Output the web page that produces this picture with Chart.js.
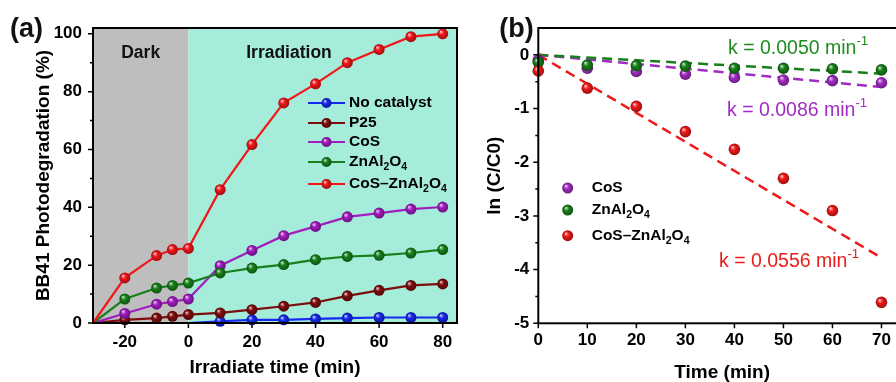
<!DOCTYPE html>
<html><head><meta charset="utf-8">
<script src="https://cdn.jsdelivr.net/npm/chart.js@4.4.0/dist/chart.umd.min.js"></script>
<style>
html,body{margin:0;padding:0;background:#fff;overflow:hidden;width:896px;height:382px;position:relative;}
#ca{position:absolute;left:0;top:0;}
#cb{position:absolute;left:450px;top:0;}
</style></head><body>
<canvas id="ca" width="470" height="382"></canvas>
<canvas id="cb" width="470" height="382"></canvas>
<script>
// ---------- Panel (a) data ----------
const timeA = [-30, -20, -10, -5, 0, 10, 20, 30, 40, 50, 60, 70, 80];
const timeNoCat = [0, 10, 20, 30, 40, 50, 60, 70, 80];
const noCatalyst = [0, 0.6, 1.1, 1.1, 1.4, 1.7, 1.9, 1.9, 1.9];
const p25 = [0, 1.1, 1.7, 2.3, 2.9, 3.5, 4.6, 5.8, 7.1, 9.4, 11.3, 13.0, 13.5];
const cosA = [0, 3.3, 6.5, 7.4, 8.3, 19.8, 25.1, 30.2, 33.4, 36.7, 38.0, 39.4, 40.1];
const znAlA = [0, 8.3, 12.1, 13.0, 13.8, 17.3, 19.0, 20.2, 21.9, 23.0, 23.4, 24.2, 25.4];
const cosZnAlA = [0, 15.6, 23.3, 25.4, 25.8, 46.1, 61.7, 76.1, 82.7, 90.0, 94.6, 99.0, 100.0];
const labelsA = ['No catalyst', 'P25', 'CoS', 'ZnAl₂O₄', 'CoS–ZnAl₂O₄'];
const aXTicks = [-20, 0, 20, 40, 60, 80];
const aYTicks = [0, 20, 40, 60, 80, 100];
const darkEnd = 0;

// ---------- Panel (b) data ----------
const timeB = [0, 10, 20, 30, 40, 50, 60, 70];
const lnCoS = [-0.1, -0.25, -0.31, -0.36, -0.42, -0.47, -0.48, -0.52];
const lnZnAl = [-0.14, -0.19, -0.2, -0.21, -0.25, -0.25, -0.26, -0.28];
const lnCoSZnAl = [-0.3, -0.62, -0.96, -1.43, -1.76, -2.3, -2.9, -4.61];
const fitT = [0, 70];
const fitCoS = [0, -0.6];
const fitZnAl = [0, -0.35];
const fitCoSZnAl = [0, -3.78];
const labelsB = ['CoS', 'ZnAl₂O₄', 'CoS–ZnAl₂O₄'];
const kLabels = ['k = 0.0050 min⁻¹', 'k = 0.0086 min⁻¹', 'k = 0.0556 min⁻¹'];
const bXTicks = [0, 10, 20, 30, 40, 50, 60, 70];
const bYTicks = [-5, -4, -3, -2, -1, 0];

// ---------- styling ----------
const FAM = '"Liberation Sans", Arial, sans-serif';
Chart.defaults.font.family = FAM;
Chart.defaults.color = '#000';
const colA = ['#1428ee', '#7e0c0c', '#a21cc0', '#17801a', '#f2161a'];
const colB = ['#a12cc2', '#17801a', '#f01818'];
const kCol = ['#1e8c1e', '#a02cc0', '#e81c1c'];
const SUB = {'₀':'0','₁':'1','₂':'2','₃':'3','₄':'4'};
const SUP = {'⁻':'-','¹':'1'};
const font = (s, w) => `${w || 'bold'} ${s}px ${FAM}`;

function hexRgb(h){ h=h.replace('#',''); return [0,2,4].map(i=>parseInt(h.substr(i,2),16)); }
function mix(h, t, f){ const a=hexRgb(h), b=hexRgb(t); return 'rgb('+a.map((v,i)=>Math.round(v+(b[i]-v)*f)).join(',')+')'; }
function sphereGrad(ctx, x, y, r, base){
  const g = ctx.createRadialGradient(x - r*0.35, y - r*0.4, r*0.05, x, y, r);
  g.addColorStop(0, mix(base, '#ffffff', 0.75));
  g.addColorStop(0.4, base);
  g.addColorStop(1, mix(base, '#000000', 0.35));
  return g;
}
function sphereColor(base, r){
  return (c) => {
    if (c.type !== 'data' || !c.parsed) return base;
    const ch = c.chart;
    if (!ch.scales || !ch.scales.x || !ch.scales.y) return base;
    const px = ch.scales.x.getPixelForValue(c.parsed.x);
    const py = ch.scales.y.getPixelForValue(c.parsed.y);
    if (!isFinite(px) || !isFinite(py)) return base;
    return sphereGrad(ch.ctx, px, py, r, base);
  };
}
function drawSphere(ctx, x, y, r, base){
  ctx.save(); ctx.beginPath(); ctx.arc(x, y, r, 0, Math.PI*2);
  ctx.fillStyle = sphereGrad(ctx, x, y, r, base); ctx.fill(); ctx.restore();
}
function drawRich(ctx, text, x, y, size, weight, color, align){
  const runs = [];
  for (const ch of text){
    let type='n', c=ch;
    if (SUB[ch]){ type='sub'; c=SUB[ch]; } else if (SUP[ch]){ type='sup'; c=SUP[ch]; }
    const last = runs[runs.length-1];
    if (last && last.type===type) last.s += c; else runs.push({type, s:c});
  }
  ctx.save(); ctx.fillStyle=color; ctx.textBaseline='middle'; ctx.textAlign='left';
  let total=0;
  for (const r of runs){ r.size = r.type==='n' ? size : size*0.68; ctx.font=font(r.size, weight); r.w=ctx.measureText(r.s).width; total+=r.w; }
  let cx = align==='center' ? x-total/2 : (align==='right' ? x-total : x);
  for (const r of runs){
    ctx.font=font(r.size, weight);
    const dy = r.type==='sub' ? size*0.32 : (r.type==='sup' ? -size*0.4 : 0);
    ctx.fillText(r.s, cx, y+dy); cx += r.w;
  }
  ctx.restore();
}
function drawFrameAndTicks(chart, xMajor, yMajor, yMinor){
  const {ctx, chartArea:a, scales:{x, y}} = chart;
  ctx.save();
  ctx.strokeStyle='#000'; ctx.lineWidth=2;
  ctx.strokeRect(a.left, a.top, a.right-a.left, a.bottom-a.top);
  ctx.lineWidth=1.5; ctx.beginPath();
  for (const v of yMajor){ const p=y.getPixelForValue(v); ctx.moveTo(a.left, p); ctx.lineTo(a.left-5, p); }
  for (const v of yMinor){ const p=y.getPixelForValue(v); ctx.moveTo(a.left, p); ctx.lineTo(a.left-3, p); }
  for (const v of xMajor){ const p=x.getPixelForValue(v); ctx.moveTo(p, a.bottom); ctx.lineTo(p, a.bottom+5); }
  ctx.stroke(); ctx.restore();
}
const mids = (arr) => arr.slice(1).map((v,i)=>(v+arr[i])/2);

// ---------- Panel (a) ----------
const seriesA = [
  {t: timeNoCat, v: noCatalyst},
  {t: timeA, v: p25},
  {t: timeA, v: cosA},
  {t: timeA, v: znAlA},
  {t: timeA, v: cosZnAlA}
];
const panelAPlugin = {
  id: 'panelA',
  beforeDatasetsDraw(chart){
    const {ctx, chartArea:a, scales:{x}} = chart;
    const x0 = x.getPixelForValue(darkEnd);
    ctx.save();
    ctx.fillStyle='#bebebe'; ctx.fillRect(a.left, a.top, x0-a.left, a.bottom-a.top);
    ctx.fillStyle='#a5ecda'; ctx.fillRect(x0, a.top, a.right-x0, a.bottom-a.top);
    ctx.restore();
  },
  afterDraw(chart){
    const {ctx, chartArea:a, scales:{x}} = chart;
    drawFrameAndTicks(chart, aXTicks, aYTicks, mids(aYTicks));
    const x0 = x.getPixelForValue(darkEnd);
    drawRich(ctx, 'Dark', (a.left+x0)/2, 53, 17.5, 'bold', '#111', 'center');
    drawRich(ctx, 'Irradiation', 289, 53, 17.5, 'bold', '#111', 'center');
    drawRich(ctx, '(a)', 26.5, 30, 27, 'bold', '#111', 'center');
    const rows = [103, 123, 142, 162, 184];
    chart.data.datasets.forEach((d, i) => {
      const yy = rows[i];
      ctx.save(); ctx.strokeStyle=colA[i]; ctx.lineWidth=2.2;
      ctx.beginPath(); ctx.moveTo(308, yy); ctx.lineTo(345, yy); ctx.stroke(); ctx.restore();
      drawSphere(ctx, 326.5, yy, 5, colA[i]);
      drawRich(ctx, d.label, 349, yy, 15.5, 'bold', '#000', 'left');
    });
  }
};
new Chart(document.getElementById('ca'), {
  type: 'scatter',
  data: { datasets: seriesA.map((s, i) => ({
    label: labelsA[i],
    data: s.t.map((t, j) => ({x: t, y: s.v[j]})),
    showLine: true, borderColor: colA[i], borderWidth: 2.2,
    pointRadius: (c) => c.dataIndex === 0 ? 0 : 5.5,
    pointBackgroundColor: sphereColor(colA[i], 5.5),
    pointBorderWidth: 0, order: 4 - i, clip: false
  })) },
  options: {
    responsive: false, animation: false, devicePixelRatio: 1, events: [],
    layout: { padding: { top: 28, right: 13, left: 0, bottom: 0 } },
    plugins: { legend: { display: false }, tooltip: { enabled: false } },
    scales: {
      x: { type: 'linear', min: -30, max: 84.5,
        afterBuildTicks: s => { s.ticks = aXTicks.map(v => ({value: v})); },
        afterFit: s => { s.height = 59; },
        grid: { display: false, drawTicks: false }, border: { display: false },
        ticks: { padding: 9, autoSkip: false, maxRotation: 0, color: '#000', font: { size: 17, weight: 'bold' } },
        title: { display: true, text: 'Irradiate time (min)', color: '#000', font: { size: 19, weight: 'bold' }, padding: { top: 0, bottom: 2.6 } } },
      y: { type: 'linear', min: 0, max: 102,
        afterBuildTicks: s => { s.ticks = aYTicks.map(v => ({value: v})); },
        afterFit: s => { s.width = 93; },
        grid: { display: false, drawTicks: false }, border: { display: false },
        ticks: { padding: 11, autoSkip: false, color: '#000', font: { size: 17, weight: 'bold' } },
        title: { display: true, text: 'BB41 Photodegradation (%)', color: '#000', font: { size: 19, weight: 'bold' }, padding: { top: 32, bottom: 0 } } }
    }
  },
  plugins: [panelAPlugin]
});

// ---------- Panel (b) ----------
const pointsB = [lnCoS, lnZnAl, lnCoSZnAl];
const fitsB = [fitCoS, fitZnAl, fitCoSZnAl];
const panelBPlugin = {
  id: 'panelB',
  afterDraw(chart){
    const {ctx} = chart;
    drawFrameAndTicks(chart, bXTicks, bYTicks, mids(bYTicks));
    drawRich(ctx, '(b)', 66.5, 30, 27, 'bold', '#111', 'center');
    const rows = [188, 210, 235.7];
    labelsB.forEach((lab, i) => {
      drawSphere(ctx, 117.7, rows[i], 5.5, colB[i]);
      drawRich(ctx, lab, 141.7, rows[i], 15.5, 'bold', '#000', 'left');
    });
    const kPos = [[278, 49], [277, 111], [269, 262]];
    kLabels.forEach((k, i) => drawRich(ctx, k, kPos[i][0], kPos[i][1], 19.5, 'normal', kCol[i], 'left'));
  }
};
const dsB = [];
fitsB.forEach((f, i) => dsB.push({
  label: labelsB[i] + ' fit', data: fitT.map((t, j) => ({x: t, y: f[j]})),
  showLine: true, borderColor: colB[i], borderWidth: 2.5, borderDash: [10, 6],
  pointRadius: 0, order: 10 - i, clip: false
}));
const ptOrder = [2, 1, 0];
pointsB.forEach((v, i) => dsB.push({
  label: labelsB[i], data: timeB.map((t, j) => ({x: t, y: v[j]})),
  showLine: false, pointRadius: 5.8, pointBorderWidth: 0,
  pointBackgroundColor: sphereColor(colB[i], 5.8), order: ptOrder[i], clip: false
}));
new Chart(document.getElementById('cb'), {
  type: 'scatter',
  data: { datasets: dsB },
  options: {
    responsive: false, animation: false, devicePixelRatio: 1, events: [],
    layout: { padding: { top: 28, right: 14, left: 0, bottom: 0 } },
    plugins: { legend: { display: false }, tooltip: { enabled: false } },
    scales: {
      x: { type: 'linear', min: 0, max: 75,
        afterBuildTicks: s => { s.ticks = bXTicks.map(v => ({value: v})); },
        afterFit: s => { s.height = 58.7; },
        grid: { display: false, drawTicks: false }, border: { display: false },
        ticks: { padding: 7, autoSkip: false, maxRotation: 0, color: '#000', font: { size: 17, weight: 'bold' } },
        title: { display: true, text: 'Time (min)', color: '#000', font: { size: 19, weight: 'bold' }, padding: { top: 0, bottom: -2 } } },
      y: { type: 'linear', min: -5, max: 0.5,
        afterBuildTicks: s => { s.ticks = bYTicks.map(v => ({value: v})); },
        afterFit: s => { s.width = 88.3; },
        grid: { display: false, drawTicks: false }, border: { display: false },
        ticks: { padding: 9, autoSkip: false, color: '#000', font: { size: 17, weight: 'bold' } },
        title: { display: true, text: 'ln (C/C0)', color: '#000', font: { size: 19, weight: 'bold' }, padding: { top: 33.6, bottom: 0 } } }
    }
  },
  plugins: [panelBPlugin]
});
</script>
</body></html>
